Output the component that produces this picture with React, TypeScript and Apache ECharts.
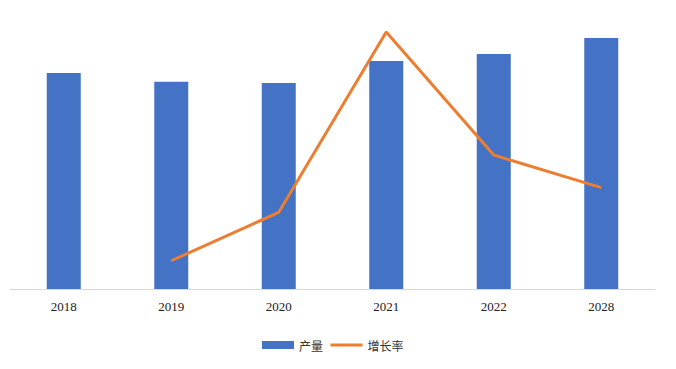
import React, { useEffect, useRef } from "react";
import * as echarts from "echarts";

const categories = ["2018", "2019", "2020", "2021", "2022", "2028"];
const outputValues = [80.3, 77.0, 76.6, 84.8, 87.4, 93.3];
const growthValues: (number | null)[] = [null, 10.5, 28.5, 95.5, 49.8, 37.7];
const seriesNames = ["产量", "增长率"];

export default function App() {
  const ref = useRef<HTMLDivElement>(null);
  useEffect(() => {
    if (!ref.current) return;
    const chart = echarts.init(ref.current, null, { renderer: "svg" });
    chart.setOption({
      animation: false,
      backgroundColor: "#ffffff",
      grid: { left: 10, right: 21, top: 20, bottom: 80, containLabel: false },
      legend: {
        left: 257,
        top: 334,
        itemWidth: 32,
        itemHeight: 8,
        itemGap: 6,
        textStyle: { fontFamily: "Noto Sans CJK SC", fontSize: 12, color: "#333" },
        data: [
          { name: seriesNames[0], icon: "rect" },
          { name: seriesNames[1], itemStyle: { opacity: 0 }, lineStyle: { color: "#ED7D31", width: 3 } },
        ],
      },
      xAxis: {
        type: "category",
        data: categories,
        axisLine: { lineStyle: { color: "#d9d9d9", width: 1 } },
        axisTick: { show: false },
        axisLabel: {
          margin: 11,
          fontFamily: "Liberation Serif",
          fontSize: 13,
          color: "#222",
        },
      },
      yAxis: [
        { type: "value", min: 0, max: 100, show: false, splitLine: { show: false } },
        { type: "value", min: 0, max: 100, show: false, splitLine: { show: false } },
      ],
      series: [
        {
          name: seriesNames[0],
          type: "bar",
          data: outputValues,
          barWidth: 34,
          itemStyle: { color: "#4472C4" },
        },
        {
          name: seriesNames[1],
          type: "line",
          yAxisIndex: 1,
          data: growthValues,
          symbol: "none",
          lineStyle: { color: "#ED7D31", width: 3 },
          itemStyle: { color: "#ED7D31" },
        },
      ],
    });
    return () => chart.dispose();
  }, []);
  return <div ref={ref} style={{ width: 676, height: 369, position: "absolute", left: 0, top: 0 }} />;
}
